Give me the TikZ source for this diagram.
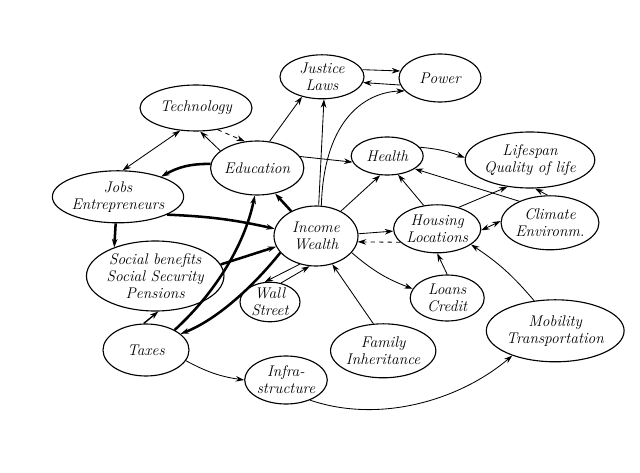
\documentclass[tikz,border=0pt]{standalone}
\usetikzlibrary{arrows.meta, shapes.geometric}
\tikzset{
    bubble/.style={ellipse, draw, line width=0.8pt, align=center, inner sep=0pt,
                   font=\itshape\fontsize{11}{12}\selectfont},
    link/.style={-{Stealth[length=6pt, width=4pt]}, line width=0.6pt},
    strong/.style={link, line width=1.8pt},
    dlink/.style={link, dashed},
    both/.style={{Stealth[length=6pt, width=4pt]}-{Stealth[length=6pt, width=4pt]}, line width=0.6pt},
}

\begin{document}
\begin{tikzpicture}[x=1cm, y=1cm]
\useasboundingbox (0,0) rectangle (16,11.8);

% nodes
\node[bubble, minimum width=2.1cm,  minimum height=1.1cm]  (justice) at (8.05,9.88) {Justice\\Laws};
\node[bubble, minimum width=2.05cm, minimum height=1.2cm]  (power)   at (11.0,9.85) {Power};
\node[bubble, minimum width=2.8cm,  minimum height=1.15cm] (tech)    at (4.9,9.1)   {Technology};
\node[bubble, minimum width=2.3cm,  minimum height=1.35cm] (edu)     at (6.43,7.6)  {Education};
\node[bubble, minimum width=1.8cm,  minimum height=0.95cm] (health)  at (9.68,7.9)  {Health};
\node[bubble, minimum width=2.55cm, minimum height=1.4cm]  (life)    at (13.25,7.8) {Lifespan\\Quality of life};
\node[bubble, minimum width=2.5cm,  minimum height=1.3cm]  (jobs)    at (2.95,6.88) {Jobs\\Entrepreneurs};
\node[bubble, minimum width=2.1cm,  minimum height=1.5cm]  (income)  at (7.9,5.9)   {Income\\Wealth};
\node[bubble, minimum width=2.0cm,  minimum height=1.2cm]  (housing) at (10.93,6.08){Housing\\Locations};
\node[bubble, minimum width=2.25cm, minimum height=1.35cm] (climate) at (13.75,6.23){Climate\\Environm.};
\node[bubble, minimum width=3.05cm, minimum height=1.75cm] (social)  at (3.88,4.9)  {Social benefits\\Social Security\\Pensions};
\node[bubble, minimum width=1.5cm,  minimum height=0.9cm]  (wall)    at (6.75,4.25) {Wall\\Street};
\node[bubble, minimum width=1.85cm, minimum height=1.15cm] (loans)   at (11.18,4.35){Loans\\Credit};
\node[bubble, minimum width=2.1cm,  minimum height=1.35cm] (family)  at (9.58,3.03) {Family\\Inheritance};
\node[bubble, minimum width=2.9cm,  minimum height=1.55cm] (mobility) at (13.88,3.53){Mobility\\Transportation};
\node[bubble, minimum width=2.15cm, minimum height=1.3cm]  (taxes)   at (3.65,3.05) {Taxes};
\node[bubble, minimum width=2.05cm, minimum height=1.2cm]  (infra)   at (7.15,2.3)  {Infra-\\structure};

% upper left
\draw[both] (tech.-125) -- (jobs.80);
\draw[link] (edu.155) -- (tech.-80);
\draw[dlink] (tech.-45) -- (edu.115);
\draw[strong] (edu.175) to[bend right=15] (jobs.25);
\draw[link] (edu.65) -- (justice.-135);
\draw[link] (edu.15) -- (health.190);

% income
\draw[link] (income.85) -- (justice.-85);
\draw[link] (income.80) .. controls (8.1,8.9) and (9.2,9.5) .. (power.200);
\draw[strong] (income.135) -- (edu.-55);
\draw[link] (income.45) -- (health.-110);
\draw[strong] (jobs.-20) to[bend left=5] (income.170);
\draw[strong] (jobs.-95) -- (social.145);
\draw[strong] (social.10) -- (income.195);
\draw[strong] (taxes.35) .. controls (5.3,4.4) and (6.1,5.6) .. (edu.-95);
\draw[strong] (income.205) .. controls (6.3,4.6) and (5.4,3.8) .. (taxes.25);
\draw[link, line width=1pt] (taxes.95) -- (social.-85);
\draw[link] (income.240) -- (wall.105);
\draw[link] (wall.60) -- (income.258);
\draw[link] (family.110) -- (income.-60);
\draw[link] (income.-25) to[bend right=10] (loans.165);

% bottom
\draw[link] (taxes.-15) to[bend right=10] (infra.180);
\draw[link] (infra.-40) .. controls (9.5,1.2) and (11.5,1.8) .. (mobility.-150);

% right side
\draw[link] (income.3) -- (housing.183);
\draw[dlink] (housing.-160) -- (income.-8);
\draw[link] (loans.90) -- (housing.-90);
\draw[link] (housing.120) -- (health.-60);
\draw[link] (housing.45) -- (life.-130);
\draw[both] (housing.-2) -- (climate.178);
\draw[link] (climate.145) -- (health.-25);
\draw[link] (climate.95) -- (life.-80);
\draw[link] (health.15) to[bend left=8] (life.178);
\draw[link] (mobility.125) to[bend right=8] (housing.-25);
\draw[link] (justice.10) -- (power.170);
\draw[link] (power.190) -- (justice.-8);

\end{tikzpicture}
\end{document}
